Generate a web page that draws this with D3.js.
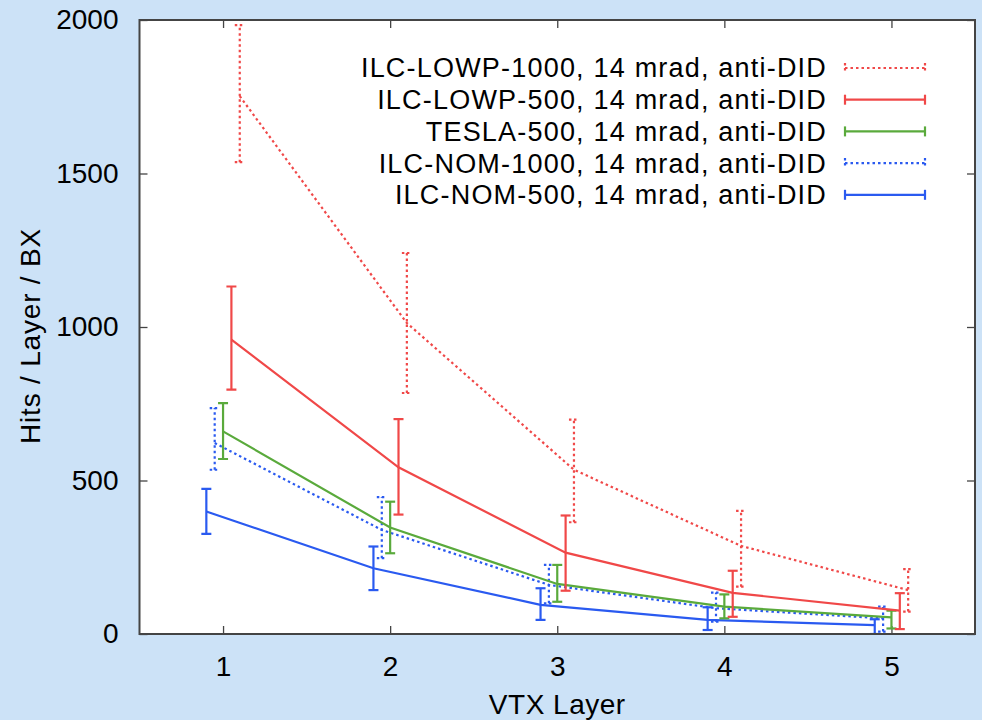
<!DOCTYPE html>
<html>
<head>
<meta charset="utf-8">
<script src="https://cdn.jsdelivr.net/npm/d3@7"></script>
<style>
  body { margin: 0; background: #cce2f7; }
  svg { display: block; font-family: "Liberation Sans", Arial, Helvetica, sans-serif; }
</style>
</head>
<body>
<script>
let w = 982;
let h = 720;
let margin = {left: 139.5, right: 7, top: 20, bottom: 86};

// data
let layers = [1, 2, 3, 4, 5];
let xTicks = [1, 2, 3, 4, 5];
let yTicks = [0, 500, 1000, 1500, 2000];
let names = [
  "ILC-LOWP-1000, 14 mrad, anti-DID",
  "ILC-LOWP-500, 14 mrad, anti-DID",
  "TESLA-500, 14 mrad, anti-DID",
  "ILC-NOM-1000, 14 mrad, anti-DID",
  "ILC-NOM-500, 14 mrad, anti-DID"
];
let xShift = [0.1, 0.05, 0, -0.05, -0.1];

let lowp1000   = [1752, 1013, 535, 287, 143];
let lowp1000Lo = [1537, 785, 364, 154, 73];
let lowp1000Hi = [1983, 1241, 698, 401, 211];

let lowp500   = [959, 543, 265, 134, 76];
let lowp500Lo = [796, 389, 141, 56, 16];
let lowp500Hi = [1132, 700, 386, 206, 133];

let tesla500   = [660, 347, 163, 89, 54];
let tesla500Lo = [570, 263, 105, 51, 18];
let tesla500Hi = [752, 431, 225, 129, 76];

let nom1000   = [622, 339, 160, 84, 51];
let nom1000Lo = [535, 247, 100, 40, 8];
let nom1000Hi = [736, 446, 225, 135, 89];

let nom500   = [399, 214, 95, 46, 29];
let nom500Lo = [326, 143, 46, 13, 0];
let nom500Hi = [473, 285, 149, 87, 48];

let colors = ["#f04848", "#f04848", "#5aaa3c", "#2a5af0", "#2a5af0"];
let dotted = [true, false, false, true, false];

let series = [
  [lowp1000, lowp1000Lo, lowp1000Hi],
  [lowp500, lowp500Lo, lowp500Hi],
  [tesla500, tesla500Lo, tesla500Hi],
  [nom1000, nom1000Lo, nom1000Hi],
  [nom500, nom500Lo, nom500Hi]
].map((s, k) => ({
  name: names[k],
  color: colors[k],
  dotted: dotted[k],
  points: layers.map((l, i) => ({x: l + xShift[k], y: s[0][i], lo: s[1][i], hi: s[2][i]}))
}));

let xScale = d3.scaleLinear().domain([0.5, 5.5]).range([margin.left, w - margin.right]);
let yScale = d3.scaleLinear().domain([0, 2000]).range([h - margin.bottom, margin.top]);

let svg = d3.select("body").append("svg").attr("width", w).attr("height", h);

let x0 = xScale.range()[0], x1 = xScale.range()[1];
let y0 = yScale.range()[0], y1 = yScale.range()[1];

svg.append("rect")
  .attr("x", x0).attr("y", y1)
  .attr("width", x1 - x0).attr("height", y0 - y1)
  .attr("fill", "#fff");

svg.append("clipPath").attr("id", "clip")
  .append("rect")
  .attr("x", x0).attr("y", y1)
  .attr("width", x1 - x0).attr("height", y0 - y1);

// inward ticks on all four sides
let tickLen = 8;
let axisStyle = g => {
  g.select(".domain").remove();
  g.selectAll(".tick line").attr("stroke", "#444").attr("stroke-width", 1.3);
  g.selectAll(".tick text").attr("fill", "#000").style("font-size", "28px");
};

svg.append("g")
  .attr("id", "x-axis")
  .attr("transform", "translate(0," + y0 + ")")
  .call(d3.axisBottom(xScale).tickValues(xTicks).tickFormat(d3.format("d"))
    .tickSizeInner(-tickLen).tickSizeOuter(0).tickPadding(22))
  .call(axisStyle);

svg.append("g")
  .attr("transform", "translate(0," + y1 + ")")
  .call(d3.axisTop(xScale).tickValues(xTicks).tickFormat("")
    .tickSizeInner(-tickLen).tickSizeOuter(0))
  .call(axisStyle);

svg.append("g")
  .attr("id", "y-axis")
  .attr("transform", "translate(" + x0 + ",0)")
  .call(d3.axisLeft(yScale).tickValues(yTicks).tickFormat(d3.format("d"))
    .tickSizeInner(-tickLen).tickSizeOuter(0).tickPadding(21))
  .call(axisStyle);

svg.append("g")
  .attr("transform", "translate(" + x1 + ",0)")
  .call(d3.axisRight(yScale).tickValues(yTicks).tickFormat("")
    .tickSizeInner(-tickLen).tickSizeOuter(0))
  .call(axisStyle);

let plot = svg.append("g").attr("clip-path", "url(#clip)");

let line = d3.line().x(d => xScale(d.x)).y(d => yScale(d.y));
let capW = 5;
let dotDash = "2.5,3";

series.slice().reverse().forEach(s => {
  let g = plot.append("g");
  let dash = s.dotted ? dotDash : null;
  g.append("path")
    .datum(s.points)
    .attr("d", line)
    .attr("fill", "none")
    .attr("stroke", s.color)
    .attr("stroke-width", 2.2)
    .attr("stroke-dasharray", dash);
  let bars = g.selectAll(".err").data(s.points).enter().append("g").attr("class", "err");
  bars.append("line")
    .attr("x1", d => xScale(d.x)).attr("x2", d => xScale(d.x))
    .attr("y1", d => yScale(d.lo)).attr("y2", d => yScale(d.hi))
    .attr("stroke", s.color).attr("stroke-width", 2.2)
    .attr("stroke-dasharray", dash);
  ["lo", "hi"].forEach(k => {
    bars.append("line")
      .attr("x1", d => xScale(d.x) - capW).attr("x2", d => xScale(d.x) + capW)
      .attr("y1", d => yScale(d[k])).attr("y2", d => yScale(d[k]))
      .attr("stroke", s.color).attr("stroke-width", 2.2)
      .attr("stroke-dasharray", s.dotted ? "2.5,2.5" : null);
  });
});

// frame
svg.append("rect")
  .attr("x", x0).attr("y", y1)
  .attr("width", x1 - x0).attr("height", y0 - y1)
  .attr("fill", "none")
  .attr("stroke", "#444")
  .attr("stroke-width", 2);

// legend
let legX = 827, legY = 68, legStep = 31.7;
let sampleX0 = 845, sampleX1 = 925;
let legend = svg.append("g").attr("id", "legend");
series.forEach((s, i) => {
  let y = legY + i * legStep;
  legend.append("text")
    .attr("x", legX).attr("y", y)
    .attr("dy", "0.35em")
    .attr("text-anchor", "end")
    .attr("fill", "#000")
    .style("font-size", "27px")
    .style("letter-spacing", "1.2px")
    .text(s.name);
  let dash = s.dotted ? dotDash : null;
  legend.append("line")
    .attr("x1", sampleX0).attr("x2", sampleX1)
    .attr("y1", y).attr("y2", y)
    .attr("stroke", s.color).attr("stroke-width", 2.2)
    .attr("stroke-dasharray", dash);
  [sampleX0, sampleX1].forEach(xx => {
    legend.append("line")
      .attr("x1", xx).attr("x2", xx)
      .attr("y1", y - 5).attr("y2", y + 5)
      .attr("stroke", s.color).attr("stroke-width", 2.2)
      .attr("stroke-dasharray", s.dotted ? "2.5,2.5" : null);
  });
});

// axis titles
svg.append("text")
  .attr("x", (x0 + x1) / 2)
  .attr("y", 714)
  .attr("text-anchor", "middle")
  .attr("fill", "#000")
  .style("font-size", "28px")
  .style("letter-spacing", "0.5px")
  .text("VTX Layer");

svg.append("text")
  .attr("transform", "translate(40," + 336 + ") rotate(-90)")
  .attr("text-anchor", "middle")
  .attr("fill", "#000")
  .style("font-size", "28px")
  .style("letter-spacing", "0.8px")
  .text("Hits / Layer / BX");
</script>
</body>
</html>
